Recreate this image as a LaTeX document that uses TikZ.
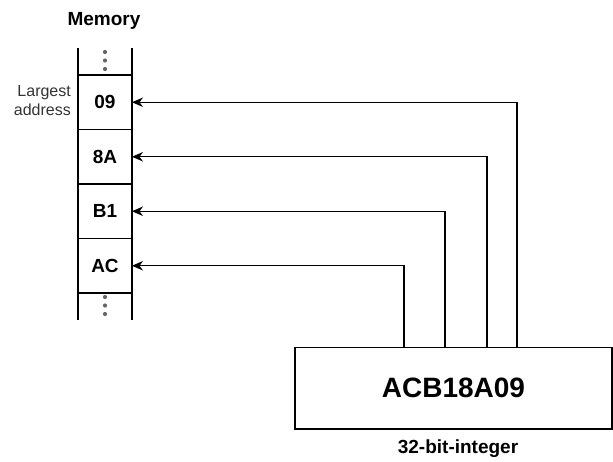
\documentclass[tikz,border=0pt]{standalone}
\usepackage{fontspec}
\setmainfont{Liberation Sans}
\usetikzlibrary{arrows.meta,calc}
\begin{document}
\begin{tikzpicture}[x=1pt,y=-1pt,line width=1.3pt,
  cell/.style={draw,minimum width=54pt,minimum height=54.5pt,inner sep=0pt,outer sep=0pt,font=\fontsize{19}{22}\selectfont\bfseries,anchor=north},
  dot/.style={fill=black!60,circle,inner sep=0pt,minimum size=4.2pt},
  link/.style={draw,-{Stealth[length=11pt,width=9.5pt,inset=3.5pt]},line width=1.3pt}]
\useasboundingbox (0,0) rectangle (613,461);
\node[font=\fontsize{19}{22}\selectfont\bfseries] (title) at (104,21) {Memory};
\coordinate (tl) at (78,48);
\coordinate (tr) at (132,48);
\coordinate (bl) at (78,320);
\coordinate (br) at (132,320);
\draw (tl) -- (bl);
\draw (tr) -- (br);
\node[cell] (c09) at (105,75) {09};
\node[cell,anchor=north] (c8a) at (c09.south) {8A};
\node[cell,anchor=north] (cb1) at (c8a.south) {B1};
\node[cell,anchor=north] (cac) at (cb1.south) {AC};
\node[dot] (d1) at (105,52) {};
\node[dot] (d2) at (105,60.5) {};
\node[dot] (d3) at (105,69) {};
\node[dot] (d4) at (105,297) {};
\node[dot] (d5) at (105,305.5) {};
\node[dot] (d6) at (105,314) {};
\node[font=\fontsize{16}{19}\selectfont,text=black!80,align=right,anchor=east,inner sep=0pt] (lbl) at (71.5,101) {Largest\\address};
\node[draw,minimum width=317pt,minimum height=81.5pt,inner sep=0pt,outer sep=0pt,anchor=north west,font=\fontsize{28}{32}\selectfont\bfseries] (box) at (295,347.5) {ACB18A09};
\node[font=\fontsize{19}{22}\selectfont\bfseries] (cap) at (458,449) {32-bit-integer};
\coordinate (p1) at ($(box.north west)+(222,0)$);
\coordinate (p2) at ($(box.north west)+(192,0)$);
\coordinate (p3) at ($(box.north west)+(150,0)$);
\coordinate (p4) at ($(box.north west)+(109,0)$);
\draw[link] (p1) |- (c09.east);
\draw[link] (p2) |- (c8a.east);
\draw[link] (p3) |- (cb1.east);
\draw[link] (p4) |- (cac.east);
\end{tikzpicture}
\end{document}
